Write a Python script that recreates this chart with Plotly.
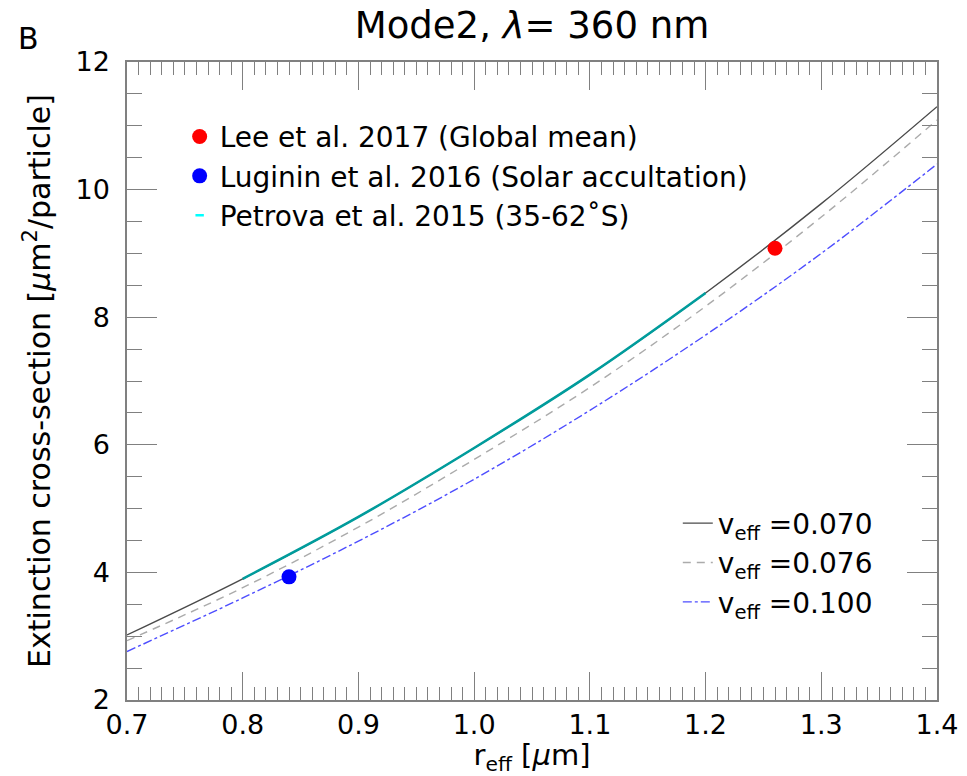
import plotly.graph_objects as go

# ---- data ----
r_eff = [0.70, 0.80, 0.90, 1.00, 1.10, 1.20, 1.30, 1.40]
sigma_v070 = [3.02, 3.90, 4.87, 5.95, 7.10, 8.38, 9.78, 11.30]
sigma_v076 = [2.93, 3.76, 4.71, 5.77, 6.90, 8.17, 9.57, 11.09]
sigma_v100 = [2.76, 3.60, 4.49, 5.46, 6.54, 7.72, 9.00, 10.40]

petrova_r = [0.80, 0.90, 1.00, 1.10, 1.20]
petrova_sigma = [3.90, 4.87, 5.95, 7.10, 8.38]

lee_r = [1.26]
lee_sigma = [9.08]
luginin_r = [0.84]
luginin_sigma = [3.93]

line_labels = ["v<sub>eff</sub> =0.070", "v<sub>eff</sub> =0.076", "v<sub>eff</sub> =0.100"]
point_labels = ["Lee et al. 2017 (Global mean)",
                "Luginin et al. 2016 (Solar accultation)",
                "Petrova et al. 2015 (35-62˚S)"]

FONT = "DejaVu Sans"
AX = "#808080"

# page body margin is removed (post_script), so the plot area lands at x 127..937, y 62..700
W, H = 967, 776
ML, MR, MT, MB = 127, W - 937, 62, H - 700

fig = go.Figure()

# model curves (legend2, lower right)
fig.add_trace(go.Scatter(x=r_eff, y=sigma_v070, mode="lines", name=line_labels[0],
                         line=dict(color="#4a4a4a", width=1.4, shape="spline"),
                         legend="legend2", legendgroup="a"))
fig.add_trace(go.Scatter(x=r_eff, y=sigma_v076, mode="lines", name=line_labels[1],
                         line=dict(color="#ababab", width=1.4, dash="8px,6px", shape="spline"),
                         legend="legend2", legendgroup="b"))
fig.add_trace(go.Scatter(x=r_eff, y=sigma_v100, mode="lines", name=line_labels[2],
                         line=dict(color="#4d4dff", width=1.4, dash="dashdot", shape="spline"),
                         legend="legend2", legendgroup="c"))

# observations (legend, upper left)
fig.add_trace(go.Scatter(x=petrova_r, y=petrova_sigma, mode="lines", showlegend=False,
                         line=dict(color="#009c9c", width=2.6, shape="spline")))
fig.add_trace(go.Scatter(x=lee_r, y=lee_sigma, mode="markers", name=point_labels[0],
                         marker=dict(color="red", size=15, line=dict(width=0)),
                         legend="legend", legendgroup="d"))
fig.add_trace(go.Scatter(x=luginin_r, y=luginin_sigma, mode="markers", name=point_labels[1],
                         marker=dict(color="blue", size=15, line=dict(width=0)),
                         legend="legend", legendgroup="e"))
fig.add_trace(go.Scatter(x=[None], y=[None], mode="markers", name=point_labels[2],
                         marker=dict(symbol="line-ew-open", color="cyan", size=6,
                                     line=dict(color="cyan", width=2.5)),
                         legend="legend", legendgroup="f"))

axis_common = dict(
    showline=True, linecolor=AX, linewidth=1.5, mirror="allticks",
    ticks="inside", tickcolor=AX, tickwidth=1.3,
    showgrid=False, zeroline=False,
    tickfont=dict(family=FONT, size=27, color="black"),
)

fig.update_xaxes(
    range=[0.7, 1.4], dtick=0.1, tick0=0.7, tickformat=".1f", ticklen=28,
    minor=dict(dtick=0.01, ticklen=13, ticks="inside", tickcolor=AX, tickwidth=1.3, showgrid=False),
    title=dict(text="r<sub>eff</sub> [<i>μ</i>m]", font=dict(family=FONT, size=29, color="black"),
               standoff=7),
    **axis_common,
)
fig.update_yaxes(
    range=[2, 12], dtick=2, tick0=2, ticklen=30, ticklabelstandoff=10,
    minor=dict(dtick=0.5, ticklen=15, ticks="inside", tickcolor=AX, tickwidth=1.3, showgrid=False),
    title=dict(text="Extinction cross-section [<i>μ</i>m<sup>2</sup>/particle]",
               font=dict(family=FONT, size=30, color="black"), standoff=16),
    **axis_common,
)

fig.update_layout(
    width=W, height=H,
    margin=dict(l=ML, r=MR, t=MT, b=MB, autoexpand=False),
    paper_bgcolor="white", plot_bgcolor="white",
    font=dict(family=FONT, color="black"),
    title=dict(text="Mode2, <i>λ</i>= 360 nm", x=0.5, xref="paper", xanchor="center",
               y=1 - 25 / H, yanchor="middle", font=dict(family=FONT, size=37, color="black")),
    legend=dict(x=0.065, y=0.922, xanchor="left", yanchor="top", bgcolor="rgba(0,0,0,0)",
                font=dict(family=FONT, size=28, color="black"), tracegroupgap=12,
                traceorder="normal"),
    legend2=dict(x=0.68, y=0.316, xanchor="left", yanchor="top", bgcolor="rgba(0,0,0,0)",
                 font=dict(family=FONT, size=28, color="black"), tracegroupgap=12,
                 traceorder="normal"),
    annotations=[dict(text="B", xref="paper", yref="paper", x=(28 - 127) / 810, y=(700 - 38) / 638,
                      xanchor="center", yanchor="middle", showarrow=False,
                      font=dict(family=FONT, size=30, color="black"))],
)

fig.write_html(
    "out.html",
    config={"displayModeBar": False},
    post_script="document.body.style.margin='0';document.body.style.overflow='hidden';",
)
